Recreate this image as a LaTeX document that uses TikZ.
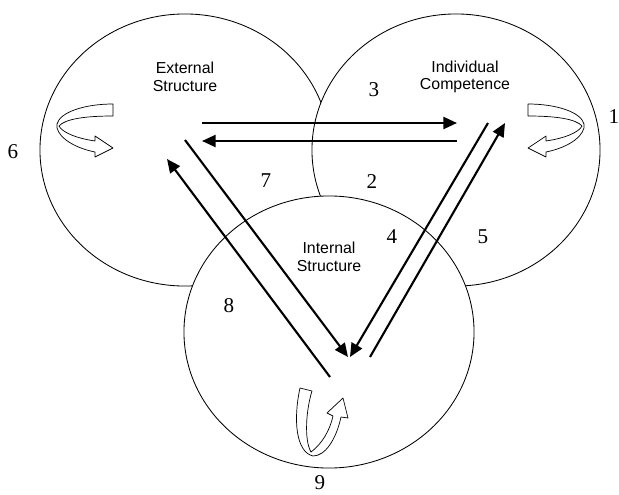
\documentclass[tikz,border=0pt]{standalone}
\usepackage{fontspec}
\setmainfont{Liberation Serif}
\setsansfont{Liberation Sans}
\usetikzlibrary{shapes.geometric,arrows.meta}
\tikzset{
  ring/.style={ellipse, draw=black, fill=white, line width=0.6pt, inner sep=0pt, minimum width=7.25cm, minimum height=6.8cm},
  area/.style={align=center, font=\sffamily\fontsize{11.3}{12.6}\selectfont, inner sep=0pt},
  num/.style={font=\fontsize{15}{15}\selectfont, inner sep=0pt},
  flow/.style={-{Triangle[length=3.4mm, width=3mm]}, draw=black, line width=1.5pt},
  turn/.style={draw=black, fill=white, line width=0.5pt, line join=round},
}
\newcommand{\sideturn}{%
  \draw[turn] (113,104) .. controls (85,104) and (60,112) .. (57,124)
    .. controls (55,134) and (70,147) .. (95,152) -- (95,157) -- (113,148) -- (95,136) -- (95,141)
    .. controls (75,138) and (62,132) .. (59,126)
    .. controls (65,119) and (85,116) .. (113,116) -- cycle;}

\begin{document}
\begin{tikzpicture}[x=0.025cm, y=-0.025cm]
\useasboundingbox (0,0) rectangle (619,494);
% the three areas
\node[ring] (es) at (185,150) {};
\node[ring, minimum width=7.2cm] (ic) at (456,150) {};
\node[ring] (is) at (329,332) {};
\node[area] (es-lab) at (185,77) {External\\Structure};
\node[area] (ic-lab) at (465,77) {Individual\\Competence};
\node[area] (is-lab) at (329,257) {Internal\\Structure};
% arrow ends
\coordinate (es-top) at (202,123);
\coordinate (ic-top) at (457,123);
\coordinate (es-bot) at (202,141);
\coordinate (ic-bot) at (457,141);
\coordinate (es-in) at (167,159);
\coordinate (is-out8) at (330,377);
\coordinate (es-out) at (185,140);
\coordinate (is-in7) at (348,357);
\coordinate (ic-out) at (488,123);
\coordinate (is-in4) at (350,357);
\coordinate (is-out5) at (370,357);
\coordinate (ic-in) at (505,123);
\draw[flow] (es-top) -- (ic-top);
\draw[flow] (ic-bot) -- (es-bot);
\draw[flow] (is-out8) -- (es-in);
\draw[flow] (es-out) -- (is-in7);
\draw[flow] (ic-out) -- (is-in4);
\draw[flow] (is-out5) -- (ic-in);
% turning arrows
\sideturn
\begin{scope}[shift={(641,0)}, xscale=-1]
\sideturn
\end{scope}
\draw[turn] (300,388) -- (312,391)
  .. controls (306,410) and (304,440) .. (311,452)
  .. controls (322,444) and (330,430) .. (333,416)
  -- (327,413) -- (343,398) -- (348,418) -- (341,417)
  .. controls (336,440) and (325,456) .. (313,456)
  .. controls (296,452) and (293,420) .. (300,388) -- cycle;
% numbers
\node[num] (n1) at (614,117) {1};
\node[num] (n2) at (372,182) {2};
\node[num] (n3) at (374,90) {3};
\node[num] (n4) at (392,237) {4};
\node[num] (n5) at (483,237) {5};
\node[num] (n6) at (13,152) {6};
\node[num] (n7) at (266,181) {7};
\node[num] (n8) at (229,306) {8};
\node[num] (n9) at (320,483) {9};
\end{tikzpicture}
\end{document}
